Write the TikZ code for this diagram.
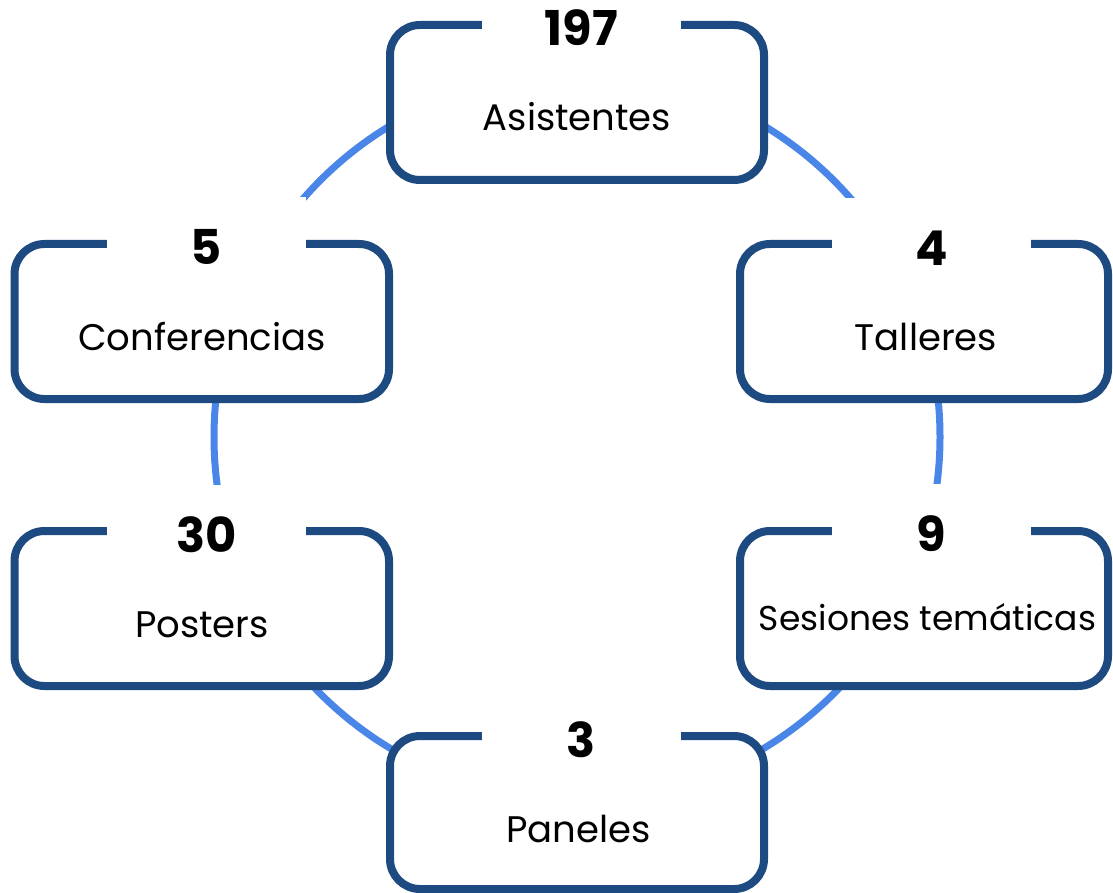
\documentclass[tikz,border=0pt]{standalone}
\usepackage{fontspec}
\setmainfont{Poppins}
\definecolor{boxblue}{HTML}{1D4A80}
\definecolor{ringblue}{HTML}{4A86E8}
\begin{document}
\begin{tikzpicture}[x=1pt,y=-1pt,
  box/.style={rectangle, draw=boxblue, line width=8pt, fill=white, rounded corners=30pt, minimum height=155pt, inner sep=0pt},
  num/.style={rectangle, fill=white, minimum width=199pt, minimum height=100pt, inner sep=0pt, font=\fontsize{48}{48}\selectfont\bfseries},
  lbl/.style={anchor=base, inner sep=0pt, font=\fontsize{37}{39}\selectfont},
  ring/.style={draw=ringblue, line width=7pt}]
\useasboundingbox (0,0) rectangle (1113,893);
\coordinate (c) at (577,437);
\draw[ring] (c) circle[radius=363pt];
% boxes
\node[box, minimum width=374pt] (asis) at (577,102.5) {};
\node[box, minimum width=374.5pt] (conf) at (201.75,321.5) {};
\node[box, minimum width=368pt] (tall) at (924,321.5) {};
\node[box, minimum width=374.5pt] (post) at (201.75,608.5) {};
\node[box, minimum width=368pt] (sesi) at (924,608.5) {};
\node[box, minimum width=374pt, minimum height=153pt] (pane) at (577,812.5) {};
% numbers
\node[num] (nasis) at (581.5,28) {197};
\node[num] (nconf) at (206.5,247) {5};
\node[num] (ntall) at (931.5,248) {4};
\node[num] (npost) at (206.5,535) {30};
\node[num] (nsesi) at (931.5,534) {9};
\node[num] (npane) at (581.5,740) {3};
% labels
\node[lbl] (lasis) at (577,131) {Asistentes};
\node[lbl] (lconf) at (202,350) {Conferencias};
\node[lbl] (ltall) at (926,350) {Talleres};
\node[lbl] (lpost) at (202,637) {Posters};
\node[lbl, font=\fontsize{34.5}{36}\selectfont] (lsesi) at (927.5,630) {Sesiones temáticas};
\node[lbl] (lpane) at (578.5,842) {Paneles};
\end{tikzpicture}
\end{document}
